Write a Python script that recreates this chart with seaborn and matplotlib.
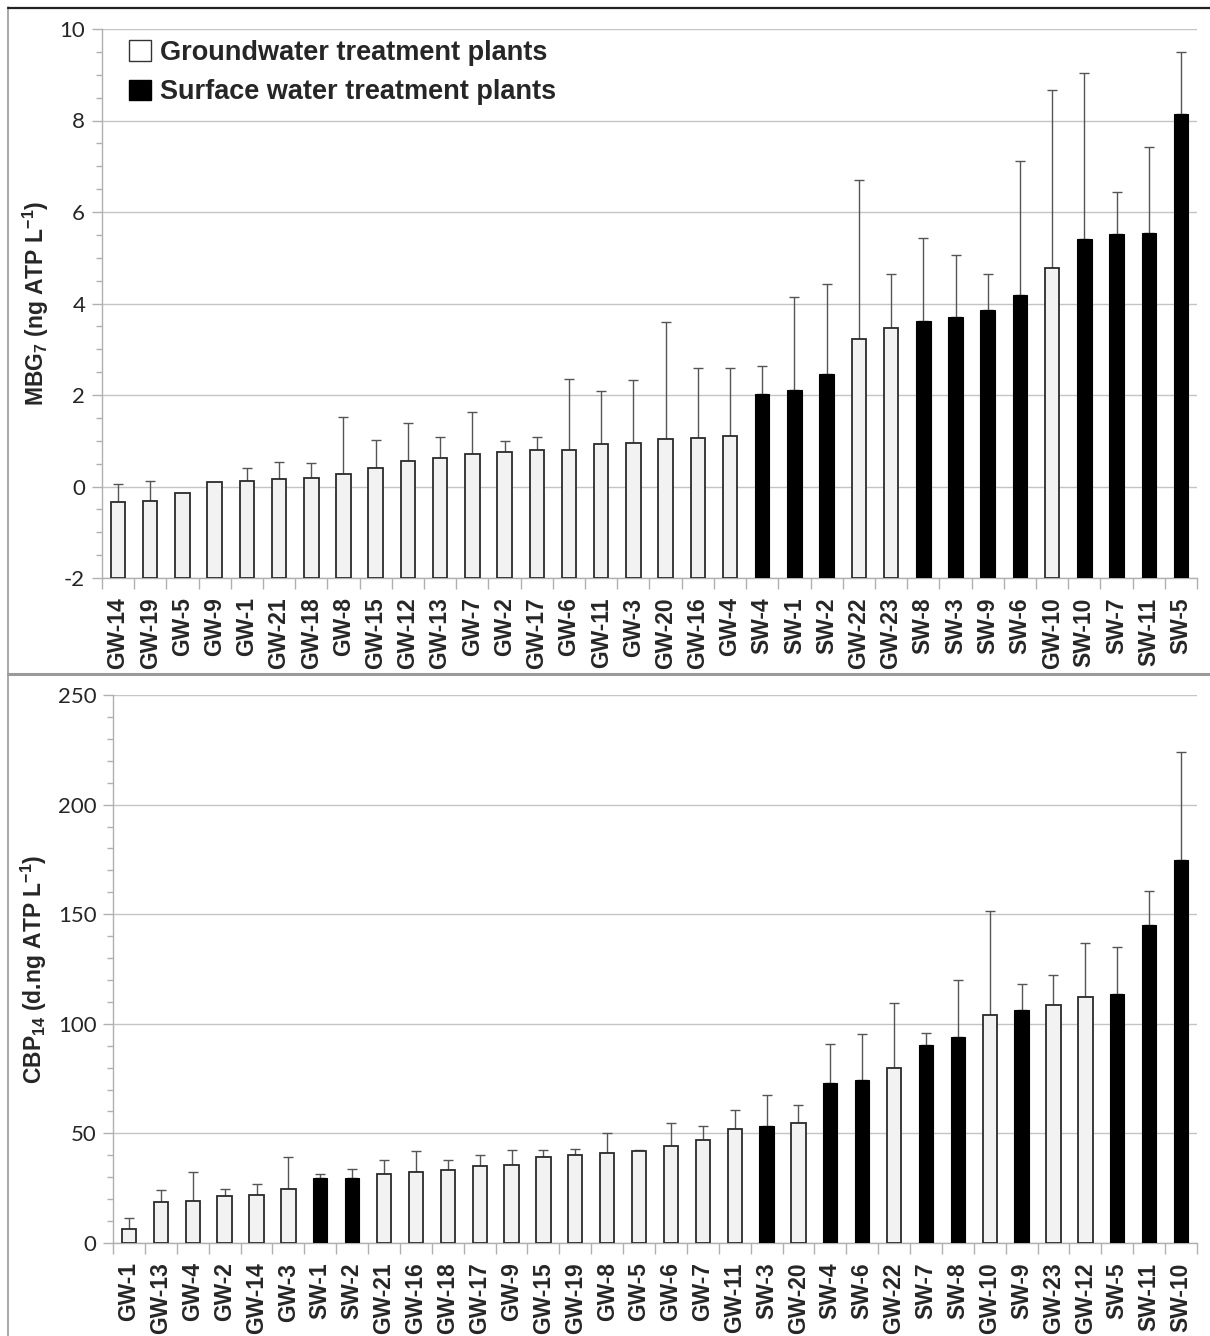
import matplotlib
matplotlib.use("Agg")
import matplotlib.pyplot as plt
from matplotlib.patches import Patch
from matplotlib.ticker import MultipleLocator
import seaborn as sns
import pandas as pd
import numpy as np

# ---- MBG7 panel data ----
mbg_sites = ["GW-14", "GW-19", "GW-5", "GW-9", "GW-1", "GW-21", "GW-18", "GW-8",
             "GW-15", "GW-12", "GW-13", "GW-7", "GW-2", "GW-17", "GW-6", "GW-11",
             "GW-3", "GW-20", "GW-16", "GW-4", "SW-4", "SW-1", "SW-2", "GW-22",
             "GW-23", "SW-8", "SW-3", "SW-9", "SW-6", "GW-10", "SW-10", "SW-7",
             "SW-11", "SW-5"]
mbg_mean = [-0.34, -0.31, -0.15, 0.10, 0.12, 0.17, 0.18, 0.27,
            0.41, 0.56, 0.63, 0.70, 0.75, 0.80, 0.80, 0.92,
            0.94, 1.04, 1.05, 1.11, 2.03, 2.11, 2.46, 3.23,
            3.47, 3.62, 3.70, 3.85, 4.18, 4.78, 5.40, 5.51,
            5.55, 8.14]
mbg_upper = [0.06, 0.12, None, None, 0.41, 0.53, 0.51, 1.53,
             1.01, 1.38, 1.08, 1.63, 1.00, 1.09, 2.36, 2.09,
             2.33, 3.59, 2.60, 2.59, 2.64, 4.15, 4.42, 6.69,
             4.64, 5.44, 5.07, 4.64, 7.11, 8.66, 9.04, 6.43,
             7.43, 9.50]

# ---- CBP14 panel data ----
cbp_sites = ["GW-1", "GW-13", "GW-4", "GW-2", "GW-14", "GW-3", "SW-1", "SW-2",
             "GW-21", "GW-16", "GW-18", "GW-17", "GW-9", "GW-15", "GW-19", "GW-8",
             "GW-5", "GW-6", "GW-7", "GW-11", "SW-3", "GW-20", "SW-4", "SW-6",
             "GW-22", "SW-7", "SW-8", "GW-10", "SW-9", "GW-23", "GW-12", "SW-5",
             "SW-11", "SW-10"]
cbp_mean = [6.4, 18.8, 19.2, 21.4, 22.0, 24.7, 29.7, 29.7,
            31.5, 32.3, 33.3, 35.0, 35.5, 39.4, 40.3, 40.9,
            41.8, 44.4, 46.8, 52.1, 53.5, 54.8, 72.9, 74.2,
            79.8, 90.2, 94.2, 104.1, 106.2, 108.5, 112.0, 113.6,
            145.2, 174.7]
cbp_upper = [11.2, 24.1, 32.3, 24.8, 26.8, 39.1, 31.7, 33.6,
             37.7, 42.0, 37.9, 40.2, 42.3, 42.3, 42.7, 50.2,
             42.4, 54.8, 53.2, 60.9, 67.7, 63.0, 90.8, 95.5,
             109.5, 95.8, 120.0, 151.4, 118.3, 122.1, 137.0, 135.2,
             160.8, 224.2]

GW_LABEL = "Groundwater treatment plants"
SW_LABEL = "Surface water treatment plants"
GW_FILL = "#f2f2f2"
SW_FILL = "#000000"
BOLD_FAMILY = ["Liberation Sans", "DejaVu Sans"]

sns.set_theme(style="white")
plt.rcParams["font.family"] = ["Lato", "DejaVu Sans"]
plt.rcParams["axes.unicode_minus"] = False
plt.rcParams["mathtext.fontset"] = "custom"
plt.rcParams["mathtext.rm"] = "Liberation Sans:bold"
plt.rcParams["mathtext.bf"] = "Liberation Sans:bold"
plt.rcParams["mathtext.it"] = "Liberation Sans:bold"

fig = plt.figure(figsize=(12.1, 13.36), dpi=100)
W, H = 1210, 1336


def frac_axes(left, top, right, bottom):
    return fig.add_axes([left / W, 1 - bottom / H, (right - left) / W, (bottom - top) / H])


def build_frame(sites, mean, upper):
    df = pd.DataFrame({"site": sites, "mean": mean})
    df["group"] = np.where(df["site"].str.startswith("GW"), GW_LABEL, SW_LABEL)
    df["upper"] = [np.nan if u is None else u for u in upper]
    return df


def draw_panel(ax, df, ylim, major, minor, ylabel):
    sns.barplot(data=df, x="site", y="mean", hue="group", order=list(df["site"]),
                hue_order=[GW_LABEL, SW_LABEL], palette=[GW_FILL, SW_FILL],
                dodge=False, width=0.45, errorbar=None, legend=False, ax=ax,
                saturation=1, zorder=3)
    # bars rise from the bottom of the value axis (axis crosses at its minimum)
    base = ylim[0]
    for p in ax.patches:
        top = p.get_y() + p.get_height()
        p.set_y(base)
        p.set_height(top - base)
        fc = p.get_facecolor()
        if fc[0] > 0.5:
            p.set_edgecolor("#2b2b2b")
            p.set_linewidth(1.3)
        else:
            p.set_edgecolor("#000000")
            p.set_linewidth(0.8)
    xs = np.arange(len(df))
    err = df["upper"] - df["mean"]
    mask = err.notna().values
    ax.errorbar(xs[mask], df["mean"].values[mask],
                yerr=[np.zeros(mask.sum()), err.values[mask]],
                fmt="none", ecolor="#555555", elinewidth=1.0, capsize=3.5,
                capthick=1.0, zorder=2)
    ax.set_xlim(-0.5, len(df) - 0.5)
    ax.set_ylim(*ylim)
    ax.yaxis.set_major_locator(MultipleLocator(major))
    ax.yaxis.set_minor_locator(MultipleLocator(minor))
    ax.grid(axis="y", which="major", color="#c4c4c4", linewidth=1.0, zorder=0)
    ax.set_axisbelow(True)
    for side in ["top", "right"]:
        ax.spines[side].set_visible(False)
    for side in ["left", "bottom"]:
        ax.spines[side].set_color("#b0b0b0")
        ax.spines[side].set_linewidth(1.0)
    ax.tick_params(axis="y", which="major", direction="out", length=7, width=1,
                   color="#b0b0b0", labelsize=16, pad=5, left=True)
    ax.tick_params(axis="y", which="minor", direction="out", length=4.5, width=1,
                   color="#b0b0b0", left=True)
    # category boundary ticks on the x axis
    ax.set_xticks(np.arange(len(df) + 1) - 0.5, minor=True)
    ax.tick_params(axis="x", which="minor", direction="out", length=8, width=1,
                   color="#b0b0b0", bottom=True)
    ax.tick_params(axis="x", which="major", length=0, labelsize=16.5, pad=14)
    ax.set_xticks(xs)
    ax.set_xticklabels(df["site"], rotation=90, fontweight="bold", family=BOLD_FAMILY)
    ax.set_xlabel("")
    ax.set_ylabel(ylabel, fontsize=16.5, fontweight="bold", family=BOLD_FAMILY,
                  labelpad=6)


# upper panel
ax1 = frac_axes(101.9, 29, 1197.1, 578)
df1 = build_frame(mbg_sites, mbg_mean, mbg_upper)
draw_panel(ax1, df1, (-2, 10), 2, 0.5, r"MBG$_{7}$ (ng ATP L$^{-1}$)")
handles = [Patch(facecolor="white", edgecolor="#333333", linewidth=1.0, label=GW_LABEL),
           Patch(facecolor="black", edgecolor="black", label=SW_LABEL)]
leg = ax1.legend(handles=handles, loc="upper left", bbox_to_anchor=(0.01, 1.01),
                 frameon=False, handlelength=0.8, handleheight=0.8,
                 handletextpad=0.35, labelspacing=0.5, borderaxespad=0.2,
                 prop={"family": BOLD_FAMILY, "weight": "bold", "size": 19.5})

# lower panel
ax2 = frac_axes(113.1, 695, 1196.9, 1243)
df2 = build_frame(cbp_sites, cbp_mean, cbp_upper)
draw_panel(ax2, df2, (0, 250), 50, 10, r"CBP$_{14}$ (d.ng ATP L$^{-1}$)")

# panel frames
fig.add_artist(plt.Line2D([8 / W, 8 / W], [1 - 7 / H, 0], color="#9a9a9a", lw=1.2))
fig.add_artist(plt.Line2D([8 / W, 1], [1 - 7.5 / H, 1 - 7.5 / H], color="#222222", lw=1.6))
fig.add_artist(plt.Line2D([8 / W, 1], [1 - 674 / H, 1 - 674 / H], color="#9a9a9a", lw=2.2))

fig.savefig("out.png", dpi=100)
